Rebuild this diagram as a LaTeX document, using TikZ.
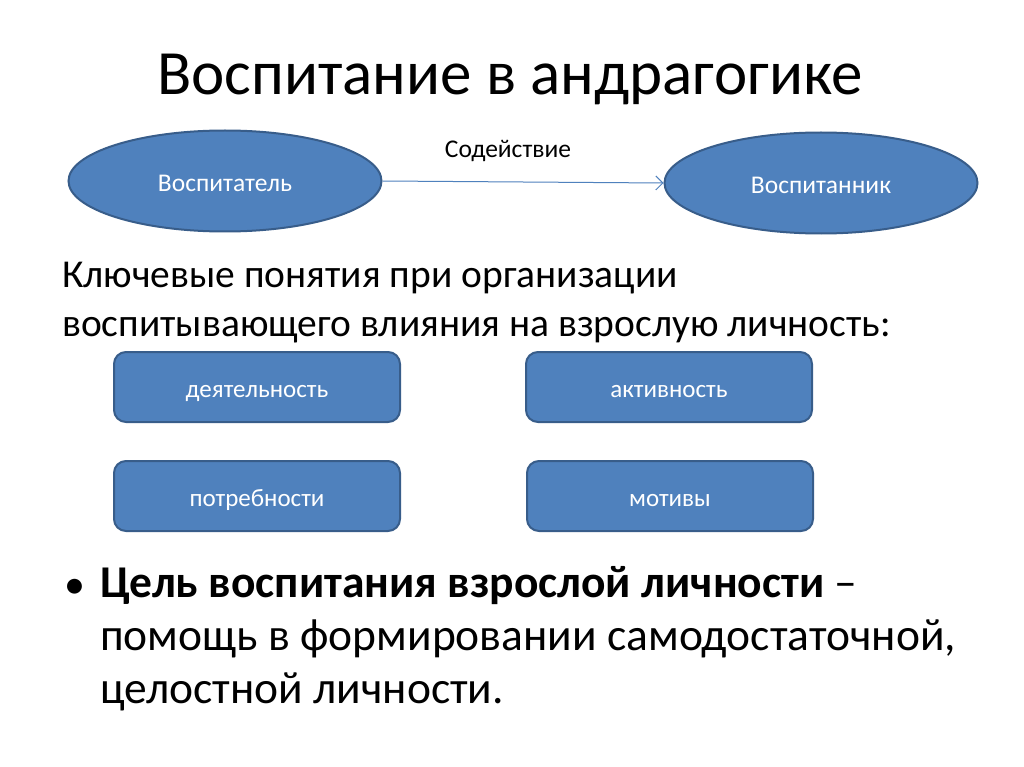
\documentclass[tikz,border=0pt]{standalone}
\usepackage{fontspec}
\setmainfont{Carlito}
\usetikzlibrary{shapes.geometric,arrows.meta}
\definecolor{bfill}{HTML}{4F81BD}
\definecolor{bline}{HTML}{385D8A}
\begin{document}
\begin{tikzpicture}[x=1pt,y=-1pt,
  oval/.style={ellipse,draw=bline,line width=2pt,fill=bfill,text=white,minimum width=313,minimum height=101,inner sep=0pt,text height=21pt,text depth=0pt,font=\fontsize{25.5}{30}\selectfont},
  conceptbox/.style={rectangle,rounded corners=12,draw=bline,line width=2pt,fill=bfill,text=white,minimum width=286,minimum height=70,inner sep=0pt,text height=20pt,text depth=0pt,font=\fontsize{25}{30}\selectfont},
  body/.style={anchor=base west,inner sep=0pt,font=\fontsize{39.5}{48}\selectfont},
  goalline/.style={anchor=base west,inner sep=0pt,font=\fontsize{45.5}{53}\selectfont}]
\useasboundingbox (0,0) rectangle (1024,767);
\fill[white] (0,0) rectangle (1024,767);
\node[inner sep=0pt,anchor=base,font=\fontsize{63}{70}\selectfont] (title) at (510,95) {Воспитание в андрагогике};
\node[oval] (a) at (225,181) {Воспитатель};
\node[oval] (b) at (821,183) {Воспитанник};
\draw[bfill,line width=1pt,-{Straight Barb[length=7,width=14]}] (a.east) -- (b.west);
\node[inner sep=0pt,anchor=base,font=\fontsize{25.5}{30}\selectfont] (lab) at (508,158) {Содействие};
\node[body] (key1) at (62,287) {Ключевые понятия при организации};
\node[body] (key2) at (62,336) {воспитывающего влияния на взрослую личность:};
\node[conceptbox] (c1) at (257,387) {деятельность};
\node[conceptbox] (c2) at (669,387) {активность};
\node[conceptbox] (c3) at (257,496) {потребности};
\node[conceptbox] (c4) at (670,496) {мотивы};
\node[inner sep=0pt,anchor=base,font=\fontsize{42}{50}\selectfont] (bul) at (75,598) {•};
\node[goalline] (g1) at (100,597) {\textbf{Цель воспитания взрослой личности} –};
\node[goalline] (g2) at (100,650) {помощь в формировании самодостаточной,};
\node[goalline] (g3) at (100,703) {целостной личности.};
\end{tikzpicture}
\end{document}
